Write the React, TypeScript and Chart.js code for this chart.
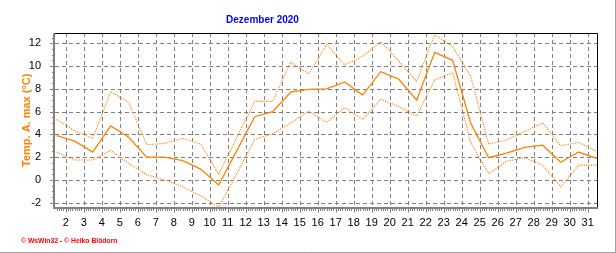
import React, { useEffect, useRef } from "react";
import { Chart, registerables } from "chart.js";

Chart.register(...registerables);

const days = [1, 2, 3, 4, 5, 6, 7, 8, 9, 10, 11, 12, 13, 14, 15, 16, 17, 18, 19, 20, 21, 22, 23, 24, 25, 26, 27, 28, 29, 30, 31];
const meanTemp = [3.9, 3.4, 2.45, 4.75, 3.75, 2.0, 2.0, 1.7, 0.95, -0.45, 2.55, 5.55, 6.0, 7.7, 7.95, 8.0, 8.6, 7.45, 9.5, 8.85, 7.0, 11.2, 10.5, 5.0, 1.95, 2.35, 2.85, 3.05, 1.55, 2.45, 1.9];
const maxTemp = [5.3, 4.3, 3.65, 7.75, 6.8, 3.1, 3.2, 3.65, 3.15, 0.5, 3.7, 6.9, 6.9, 10.35, 9.3, 11.9, 10.1, 10.85, 12.15, 10.45, 8.65, 12.75, 11.7, 9.1, 3.15, 3.5, 4.25, 5.0, 3.0, 3.3, 2.5];
const minTemp = [2.45, 1.75, 1.75, 2.6, 1.45, 0.45, 0.0, -0.6, -1.4, -2.4, 0.55, 3.55, 4.05, 5.0, 6.05, 5.05, 6.35, 5.3, 7.1, 6.45, 5.6, 8.8, 9.4, 3.3, 0.55, 1.65, 1.95, 1.3, -0.6, 1.3, 1.3];
const xTickLabels = [2, 3, 4, 5, 6, 7, 8, 9, 10, 11, 12, 13, 14, 15, 16, 17, 18, 19, 20, 21, 22, 23, 24, 25, 26, 27, 28, 29, 30, 31];
const yTicks = [-2, 0, 2, 4, 6, 8, 10, 12];

const TITLE = "Dezember 2020";
const Y_TITLE = "Temp. A. max (°C)";
const FOOTER = "© WsWin32 - © Heiko Blödorn";
const ORANGE = "#ff8000";

const toPoints = (vals: number[]) => days.map((d, i) => ({ x: d, y: vals[i] }));

const framePlugin = {
  id: "frame",
  beforeDatasetsDraw(chart: any) {
    const { ctx, chartArea: a, scales } = chart;
    const x = scales.x;
    const y = scales.y;
    ctx.save();
    ctx.strokeStyle = "#808080";
    ctx.lineWidth = 1;
    ctx.setLineDash([4, 3]);
    for (const t of xTickLabels) {
      const px = Math.round(x.getPixelForValue(t - 0.5)) + 0.5;
      ctx.beginPath();
      ctx.moveTo(px, a.top);
      ctx.lineTo(px, a.bottom);
      ctx.stroke();
    }
    for (const v of yTicks) {
      const py = Math.round(y.getPixelForValue(v)) + 0.5;
      ctx.beginPath();
      ctx.moveTo(a.left, py);
      ctx.lineTo(a.right, py);
      ctx.stroke();
    }
    ctx.restore();
  },
  afterDatasetsDraw(chart: any) {
    const { ctx, chartArea: a, scales, width, height } = chart;
    const x = scales.x;
    const y = scales.y;
    ctx.save();
    ctx.setLineDash([]);
    ctx.strokeStyle = "#000";
    ctx.lineWidth = 1;
    ctx.beginPath();
    ctx.moveTo(a.left, Math.round(a.top) + 0.5);
    ctx.lineTo(Math.round(a.right) + 0.5, Math.round(a.top) + 0.5);
    ctx.lineTo(Math.round(a.right) + 0.5, a.bottom);
    ctx.stroke();
    ctx.strokeStyle = "#808080";
    ctx.lineWidth = 1;
    for (let d = 1; d <= 31; d += 0.125) {
      const px = Math.round(x.getPixelForValue(d - 0.5)) + 0.5;
      if (px < a.left || px > a.right) continue;
      const major = Math.abs(d - Math.round(d)) < 1e-6;
      ctx.beginPath();
      ctx.moveTo(px, a.bottom);
      ctx.lineTo(px, a.bottom + (major ? 5 : 3.5));
      ctx.stroke();
    }
    for (let v = -2.5; v <= 12.5; v += 0.5) {
      const py = Math.round(y.getPixelForValue(v)) + 0.5;
      if (py < a.top || py > a.bottom) continue;
      const major = Math.abs(v / 2 - Math.round(v / 2)) < 1e-6;
      ctx.beginPath();
      ctx.moveTo(a.left, py);
      ctx.lineTo(a.left - (major ? 5 : 3), py);
      ctx.stroke();
    }
    ctx.strokeStyle = "#808080";
    ctx.lineWidth = 2;
    ctx.beginPath();
    ctx.moveTo(a.left - 1, a.top);
    ctx.lineTo(a.left - 1, a.bottom + 0.5);
    ctx.lineTo(a.right + 1, a.bottom + 0.5);
    ctx.stroke();
    ctx.fillStyle = "#0000ff";
    ctx.font = "bold 10px 'Liberation Sans', Arial, sans-serif";
    ctx.textAlign = "center";
    ctx.textBaseline = "alphabetic";
    ctx.fillText(TITLE, 262.5, 23);
    ctx.fillStyle = "#ff0000";
    ctx.font = "bold 6.8px 'Liberation Sans', Arial, sans-serif";
    ctx.textAlign = "left";
    ctx.fillText(FOOTER, 21, 243);
    ctx.strokeStyle = "#a0a0a0";
    ctx.lineWidth = 1;
    ctx.beginPath();
    ctx.moveTo(width - 0.5, 0);
    ctx.lineTo(width - 0.5, height - 0.5);
    ctx.lineTo(0, height - 0.5);
    ctx.stroke();
    ctx.restore();
  },
};

export default function App() {
  const canvasRef = useRef<HTMLCanvasElement | null>(null);

  useEffect(() => {
    const canvas = canvasRef.current;
    if (!canvas) return;
    const lineBase = {
      borderColor: ORANGE,
      backgroundColor: ORANGE,
      pointRadius: 0,
      fill: false,
      tension: 0,
    };
    const chart = new Chart(canvas, {
      type: "line",
      data: {
        datasets: [
          { ...lineBase, label: "max", data: toPoints(maxTemp), borderWidth: 1.1, borderDash: [1.2, 1.2] },
          { ...lineBase, label: "mittel", data: toPoints(meanTemp), borderWidth: 1.3 },
          { ...lineBase, label: "min", data: toPoints(minTemp), borderWidth: 1.1, borderDash: [1.2, 1.2] },
        ],
      },
      options: {
        animation: false,
        responsive: false,
        devicePixelRatio: 1,
        layout: { padding: { top: 33, right: 19, left: 0, bottom: 0 } },
        plugins: {
          legend: { display: false },
          title: { display: false },
          tooltip: { enabled: false },
        },
        scales: {
          x: {
            type: "linear",
            min: 0.905,
            max: 31.02,
            grid: { display: false, drawTicks: false },
            border: { display: false },
            afterBuildTicks: (scale: any) => {
              scale.ticks = xTickLabels.map((v) => ({ value: v - 0.5 }));
            },
            afterFit: (scale: any) => {
              scale.height = 45.5;
            },
            ticks: {
              autoSkip: false,
              maxRotation: 0,
              minRotation: 0,
              padding: 9,
              color: "#000",
              font: { family: "'Liberation Sans', Arial, sans-serif", size: 11 },
              callback: (v: any) => String(Math.round(Number(v) + 0.5)),
            },
          },
          y: {
            type: "linear",
            min: -2.42,
            max: 12.9,
            grid: { display: false, drawTicks: false },
            border: { display: false },
            afterBuildTicks: (scale: any) => {
              scale.ticks = yTicks.map((v) => ({ value: v }));
            },
            afterFit: (scale: any) => {
              scale.width = 55;
            },
            ticks: {
              padding: 14,
              color: "#000",
              font: { family: "'Liberation Sans', Arial, sans-serif", size: 11 },
            },
            title: {
              display: true,
              text: Y_TITLE,
              color: ORANGE,
              padding: { top: 20, bottom: 0 },
              font: { family: "'Liberation Sans', Arial, sans-serif", size: 11, weight: "bold" },
            },
          },
        },
      },
      plugins: [framePlugin],
    });
    return () => chart.destroy();
  }, []);

  return (
    <div style={{ position: "fixed", left: 0, top: 0, width: 616, height: 253, background: "#fff" }}>
      <canvas ref={canvasRef} width={616} height={253} style={{ display: "block", width: 616, height: 253 }} />
    </div>
  );
}
